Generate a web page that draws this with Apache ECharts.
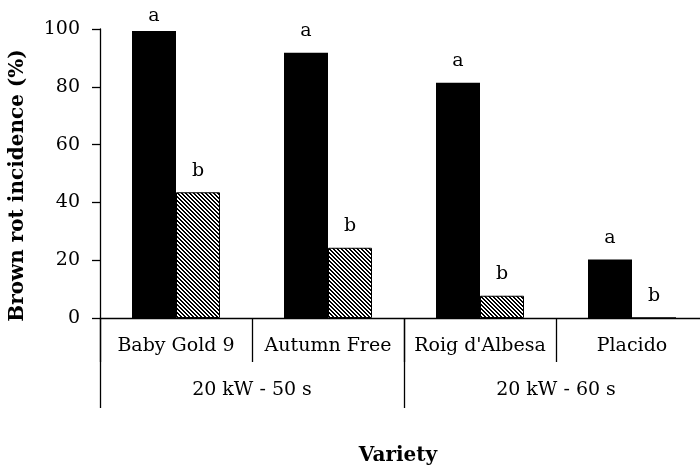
<!DOCTYPE html>
<html>
<head>
<meta charset="utf-8">
<script src="https://cdn.jsdelivr.net/npm/echarts@6/dist/echarts.min.js"></script>
<style>
  html, body { margin: 0; padding: 0; background: #fff; }
  #chart { width: 700px; height: 469px; }
</style>
</head>
<body>
<div id="chart"></div>
<script>
// Varieties and the two treatment settings they belong to
const varieties = ['Baby Gold 9', 'Autumn Free', "Roig d'Albesa", 'Placido'];
const settings = ['20 kW - 50 s', '20 kW - 60 s'];

// Brown rot incidence (%)
const controlValues = [99.3, 91.8, 81.4, 20.2];
const treatedValues = [43.5, 24.3, 7.7, 0];

// Significance letters shown above the bars
const controlLetters = ['a', 'a', 'a', 'a'];
const treatedLetters = ['b', 'b', 'b', 'b'];

const yTicks = [0, 20, 40, 60, 80, 100];

const FONT = 'DejaVu Serif';

// Diagonal hatch fill for the treated bars
function hatchPattern() {
  const c = document.createElement('canvas');
  c.width = 4; c.height = 4;
  const ctx = c.getContext('2d');
  ctx.fillStyle = '#fff';
  ctx.fillRect(0, 0, 4, 4);
  ctx.fillStyle = '#000';
  for (let y = 0; y < 4; y++) {
    for (let x = 0; x < 4; x++) {
      const d = ((x - y) % 4 + 4) % 4;
      if (d === 0 || d === 1) ctx.fillRect(x, y, 1, 1);
    }
  }
  return c;
}

const chart = echarts.init(document.getElementById('chart'), null, { renderer: 'canvas' });

const letterLabel = (letters) => ({
  show: true,
  position: 'top',
  distance: 12,
  color: '#000',
  fontFamily: FONT,
  fontSize: 19,
  formatter: (p) => letters[p.dataIndex]
});

// The letter over the tallest bar sits closer to it so it stays inside the frame
const controlData = controlValues.map((v) =>
  v >= 95 ? { value: v, label: { distance: 5 } } : v
);

chart.setOption({
  animation: false,
  backgroundColor: '#fff',
  grid: { left: 100, top: 29, bottom: 151, width: 608, outerBoundsMode: 'none', containLabel: false },
  yAxis: {
    type: 'value',
    min: yTicks[0],
    max: yTicks[yTicks.length - 1],
    interval: 20,
    name: 'Brown rot incidence (%)',
    nameLocation: 'middle',
    nameGap: 72,
    nameTextStyle: { fontFamily: FONT, fontSize: 20, fontWeight: 'bold', color: '#000', padding: [0, 0, 0, -24] },
    axisLine: { show: true, lineStyle: { color: '#000', width: 1.3 } },
    axisTick: { show: true, length: 8, lineStyle: { color: '#000', width: 1.3 } },
    axisLabel: { margin: 20, color: '#000', fontFamily: FONT, fontSize: 19 },
    splitLine: { show: false }
  },
  xAxis: [
    {
      type: 'category',
      data: varieties,
      position: 'bottom',
      axisLine: { show: true, lineStyle: { color: '#000', width: 1.3 } },
      axisTick: { show: true, length: 44, interval: 0, lineStyle: { color: '#000', width: 1.3 } },
      axisLabel: { margin: 19, interval: 0, color: '#000', fontFamily: FONT, fontSize: 19 }
    },
    {
      type: 'category',
      data: settings,
      position: 'bottom',
      axisLine: { show: false },
      axisTick: { show: true, length: 90, interval: 0, lineStyle: { color: '#000', width: 1.3 } },
      axisLabel: { margin: 63, interval: 0, color: '#000', fontFamily: FONT, fontSize: 19 },
      name: 'Variety',
      nameLocation: 'middle',
      nameGap: 128,
      nameTextStyle: { fontFamily: FONT, fontSize: 20, fontWeight: 'bold', color: '#000', padding: [0, 12, 0, 0] }
    }
  ],
  series: [
    {
      type: 'bar',
      xAxisIndex: 0,
      data: controlData,
      barWidth: 44,
      barGap: '0%',
      itemStyle: { color: '#000' },
      label: letterLabel(controlLetters)
    },
    {
      type: 'bar',
      xAxisIndex: 0,
      data: treatedValues,
      barWidth: 44,
      barGap: '0%',
      itemStyle: { color: { image: hatchPattern(), repeat: 'repeat' }, borderColor: '#000', borderWidth: 1 },
      label: letterLabel(treatedLetters)
    }
  ]
});
</script>
</body>
</html>
